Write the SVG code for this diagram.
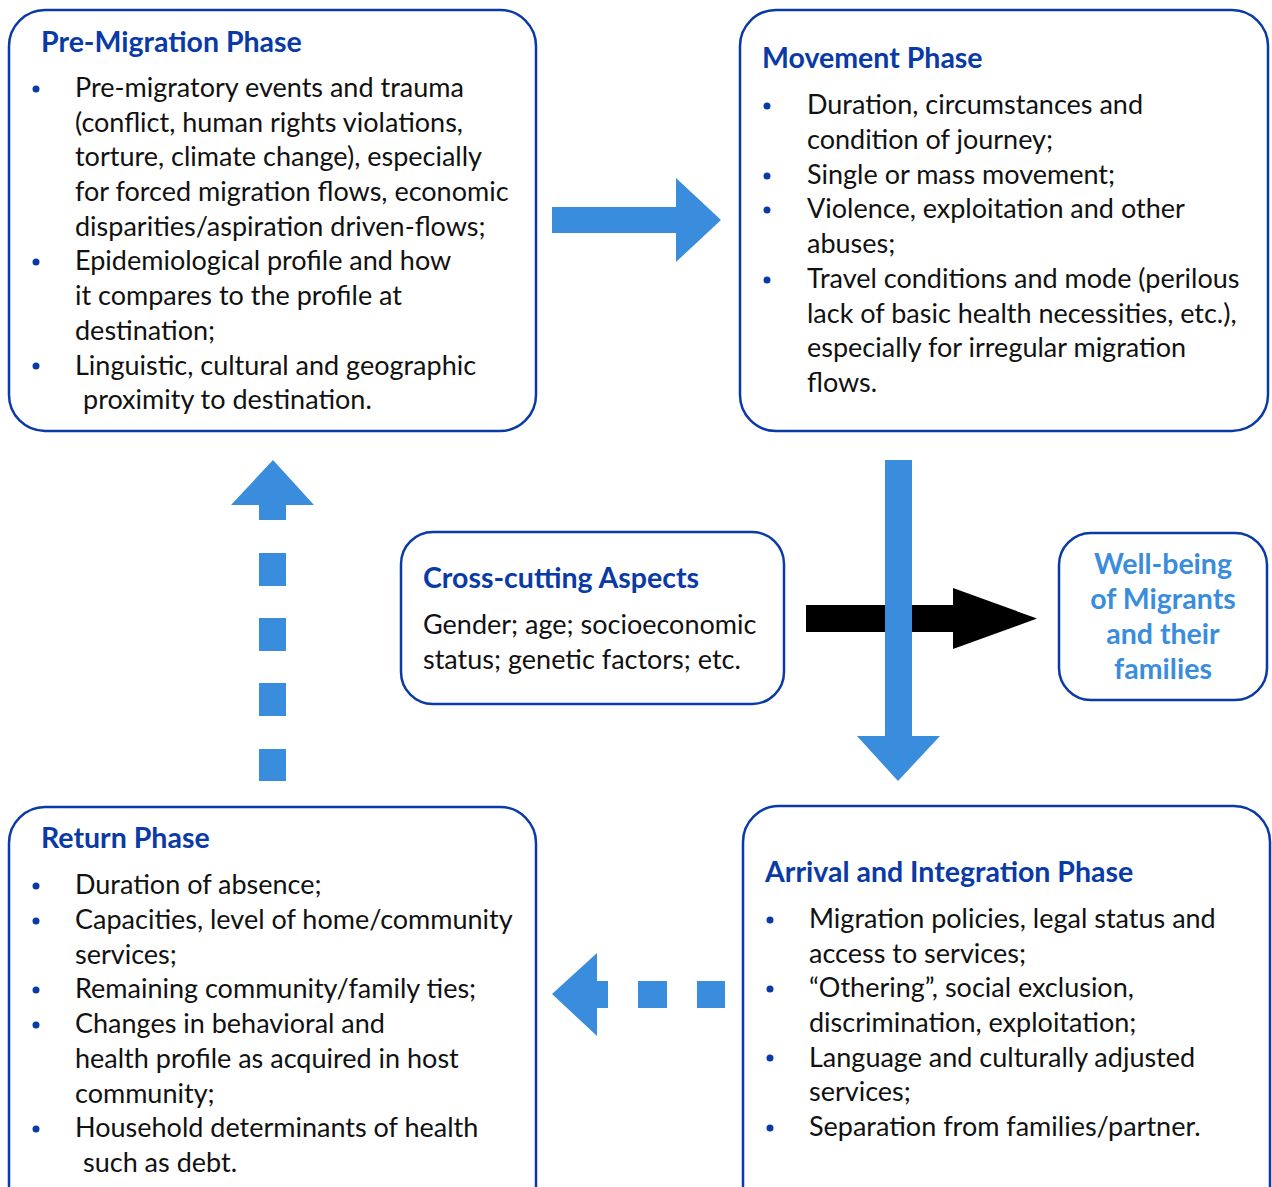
<svg xmlns="http://www.w3.org/2000/svg" width="1272" height="1187" viewBox="0 0 1272 1187">
<style>
.box{fill:#fff;stroke:#0a3aa6;stroke-width:2.5}
.t{font-family:Lato,"Open Sans",sans-serif;font-size:27px;fill:#111}
.h{font-family:Lato,"Open Sans",sans-serif;font-size:28.5px;font-weight:bold;fill:#0a3aa6}
.w{font-family:Lato,"Open Sans",sans-serif;font-size:28.5px;font-weight:bold;fill:#3a8ddc;text-anchor:middle}
.b{fill:#0a3aa6}
.ar{fill:#3a8ddc}
</style>
<rect width="1272" height="1187" fill="#fff"/>
<g id="connectors">
<polygon class="ar" points="552,207 676,207 676,178 721,220 676,262 676,233 552,233"/>
<polygon fill="#000" points="806,605 953,605 953,588 1037,618.5 953,649 953,632 806,632"/>
<polygon class="ar" points="885,460 912,460 912,736 940,736 898,781 857,736 885,736"/>
<polygon class="ar" points="273,460 314,505 286,505 286,520 259,520 259,505 231,505"/>
<rect class="ar" x="259" y="553" width="27" height="33"/>
<rect class="ar" x="259" y="618" width="27" height="33"/>
<rect class="ar" x="259" y="683" width="27" height="33"/>
<rect class="ar" x="259" y="749" width="27" height="32"/>
<polygon class="ar" points="552,994 597,953 597,981 608,981 608,1008 597,1008 597,1036"/>
<rect class="ar" x="638" y="981" width="29" height="27"/>
<rect class="ar" x="697" y="981" width="28" height="27"/>
</g>
<g id="pre-migration">
<rect class="box" x="9" y="10" width="527" height="421" rx="36"/>
<text class="h" x="41" y="52">Pre-Migration Phase</text>
<g class="b"><circle cx="36" cy="89" r="3.5"/><circle cx="36" cy="262" r="3.5"/><circle cx="36" cy="366" r="3.5"/></g>
<text class="t" x="75" y="97">Pre-migratory events and trauma</text>
<text class="t" x="75" y="132">(conflict, human rights violations,</text>
<text class="t" x="75" y="166">torture, climate change), especially</text>
<text class="t" x="75" y="201">for forced migration flows, economic</text>
<text class="t" x="75" y="236">disparities/aspiration driven-flows;</text>
<text class="t" x="75" y="270">Epidemiological profile and how</text>
<text class="t" x="75" y="305">it compares to the profile at</text>
<text class="t" x="75" y="340">destination;</text>
<text class="t" x="75" y="375">Linguistic, cultural and geographic</text>
<text class="t" x="83" y="409">proximity to destination.</text>
</g>
<g id="movement">
<rect class="box" x="740" y="10" width="528" height="421" rx="36"/>
<text class="h" x="762" y="68">Movement Phase</text>
<g class="b"><circle cx="767" cy="106" r="3.5"/><circle cx="767" cy="176" r="3.5"/><circle cx="767" cy="210" r="3.5"/><circle cx="767" cy="280" r="3.5"/></g>
<text class="t" x="807" y="114">Duration, circumstances and</text>
<text class="t" x="807" y="149">condition of journey;</text>
<text class="t" x="807" y="184">Single or mass movement;</text>
<text class="t" x="807" y="218">Violence, exploitation and other</text>
<text class="t" x="807" y="253">abuses;</text>
<text class="t" x="807" y="288">Travel conditions and mode (perilous</text>
<text class="t" x="807" y="323">lack of basic health necessities, etc.),</text>
<text class="t" x="807" y="357">especially for irregular migration</text>
<text class="t" x="807" y="392">flows.</text>
</g>
<g id="cross-cutting">
<rect class="box" x="401" y="532" width="383" height="172" rx="32"/>
<text class="h" x="423" y="588">Cross-cutting Aspects</text>
<text class="t" x="423" y="634">Gender; age; socioeconomic</text>
<text class="t" x="423" y="669">status; genetic factors; etc.</text>
</g>
<g id="well-being">
<rect class="box" x="1059" y="533" width="208" height="167" rx="32"/>
<text class="w" x="1163" y="574">Well-being</text>
<text class="w" x="1163" y="609">of Migrants</text>
<text class="w" x="1163" y="644">and their</text>
<text class="w" x="1163" y="679">families</text>
</g>
<g id="return">
<rect class="box" x="9" y="807" width="527" height="420" rx="36"/>
<text class="h" x="41" y="848">Return Phase</text>
<g class="b"><circle cx="36" cy="886" r="3.5"/><circle cx="36" cy="921" r="3.5"/><circle cx="36" cy="990" r="3.5"/><circle cx="36" cy="1025" r="3.5"/><circle cx="36" cy="1129" r="3.5"/></g>
<text class="t" x="75" y="894">Duration of absence;</text>
<text class="t" x="75" y="929">Capacities, level of home/community</text>
<text class="t" x="75" y="964">services;</text>
<text class="t" x="75" y="998">Remaining community/family ties;</text>
<text class="t" x="75" y="1033">Changes in behavioral and</text>
<text class="t" x="75" y="1068">health profile as acquired in host</text>
<text class="t" x="75" y="1103">community;</text>
<text class="t" x="75" y="1137">Household determinants of health</text>
<text class="t" x="83" y="1172">such as debt.</text>
</g>
<g id="arrival">
<rect class="box" x="743" y="806" width="527" height="420" rx="36"/>
<text class="h" x="765" y="882">Arrival and Integration Phase</text>
<g class="b"><circle cx="770" cy="920" r="3.5"/><circle cx="770" cy="989" r="3.5"/><circle cx="770" cy="1058" r="3.5"/><circle cx="770" cy="1128" r="3.5"/></g>
<text class="t" x="809" y="928">Migration policies, legal status and</text>
<text class="t" x="809" y="963">access to services;</text>
<text class="t" x="809" y="997">“Othering”, social exclusion,</text>
<text class="t" x="809" y="1032">discrimination, exploitation;</text>
<text class="t" x="809" y="1067">Language and culturally adjusted</text>
<text class="t" x="809" y="1101">services;</text>
<text class="t" x="809" y="1136">Separation from families/partner.</text>
</g>
</svg>
